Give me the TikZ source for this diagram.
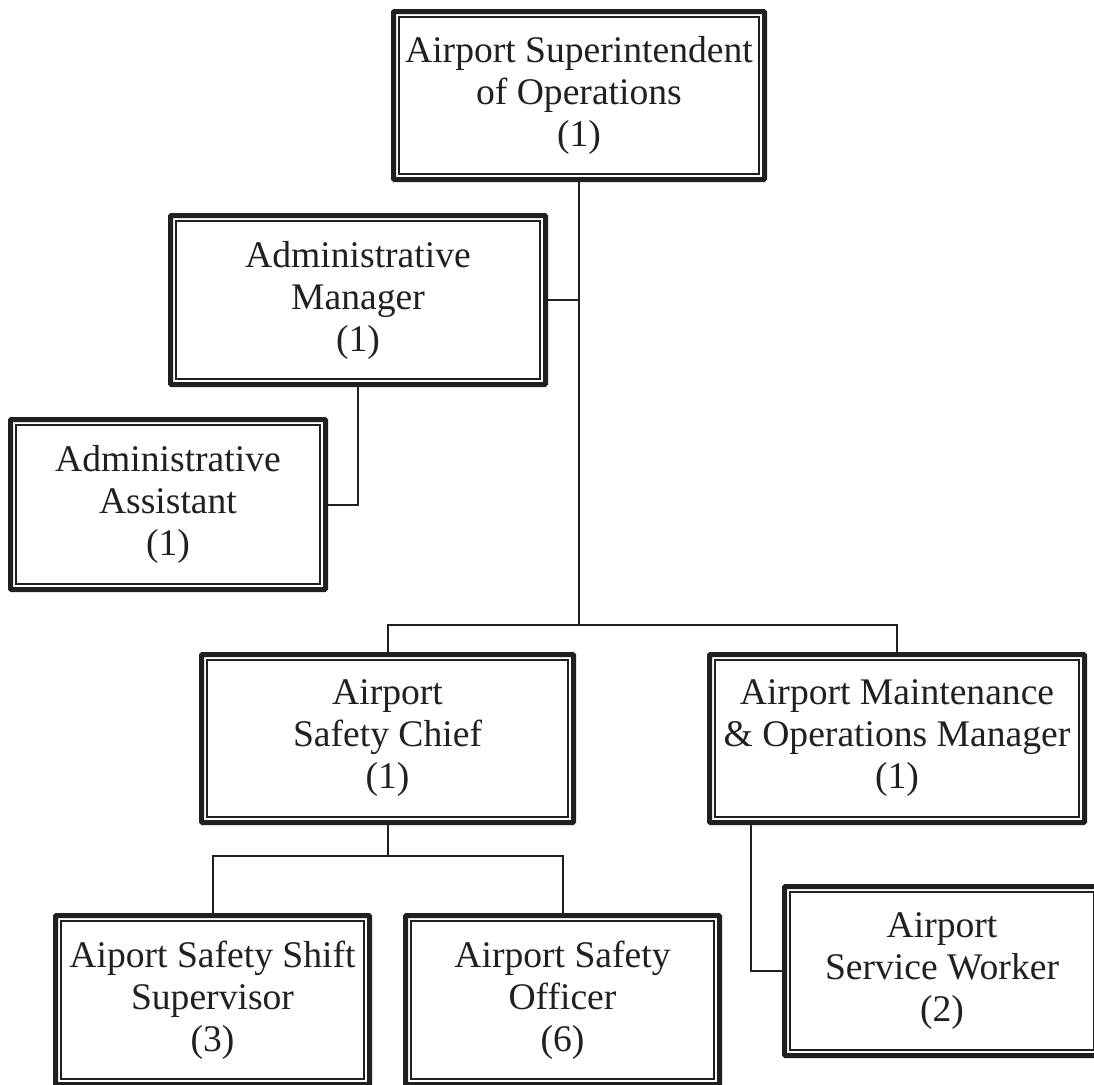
\documentclass[tikz,border=0pt]{standalone}
\usepackage{fontspec}
\setmainfont{Liberation Serif}
\definecolor{ink}{HTML}{231F20}
\begin{document}
\begin{tikzpicture}[x=1pt,y=-1pt,
  orgbox/.style={draw=ink, line width=5pt, rounded corners=1pt, inner sep=0pt,
    align=center, text=ink, font=\fontsize{37.6}{42}\selectfont,
    path picture={\draw[ink, line width=1.8pt, sharp corners]
      ([shift={(5.6pt,-5.6pt)}]path picture bounding box.north west) rectangle
      ([shift={(-5.6pt,5.6pt)}]path picture bounding box.south east);}},
  conn/.style={draw=ink, line width=2pt}]
\useasboundingbox (0,0) rectangle (1094,1084);
\clip (0,0) rectangle (1094,1084);
\fill[white] (0,0) rectangle (1094,1084);

\node[orgbox, minimum width=371pt, minimum height=168pt] (top) at (579,95.5)
  {Airport Superintendent\\of Operations\\(1)};
\node[orgbox, minimum width=375pt, minimum height=169pt] (admgr) at (358,300)
  {Administrative\\Manager\\(1)};
\node[orgbox, minimum width=315pt, minimum height=170pt] (adasst) at (168,504.5)
  {Administrative\\Assistant\\(1)};
\node[orgbox, minimum width=372pt, minimum height=168pt] (chief) at (387.5,738.5)
  {Airport\\Safety Chief\\(1)};
\node[orgbox, minimum width=375pt, minimum height=168pt] (maint) at (897,738.5)
  {Airport Maintenance\\\& Operations Manager\\(1)};
\node[orgbox, minimum width=314pt, minimum height=169pt] (ssup) at (212.5,1000)
  {Aiport Safety Shift\\Supervisor\\(3)};
\node[orgbox, minimum width=314pt, minimum height=169pt] (officer) at (562.5,1000)
  {Airport Safety\\Officer\\(6)};
\node[orgbox, minimum width=315pt, minimum height=169pt] (service) at (942,971)
  {Airport\\Service Worker\\(2)};

\coordinate (j1) at ([yshift=-442.5pt]top.south);
\coordinate (j2) at ([yshift=-30.5pt]chief.south);
\coordinate (m1) at ([xshift=43.5pt]maint.south west);

\draw[conn] (top.south) -- (j1);
\draw[conn] (admgr.east) -- (admgr.east -| top.south);
\draw[conn] (chief.north) |- (j1) -| (maint.north);
\draw[conn] (admgr.south) |- (adasst.east);
\draw[conn] (chief.south) -- (j2);
\draw[conn] (ssup.north) |- (j2) -| (officer.north);
\draw[conn] (m1) |- (service.west);
\end{tikzpicture}
\end{document}
